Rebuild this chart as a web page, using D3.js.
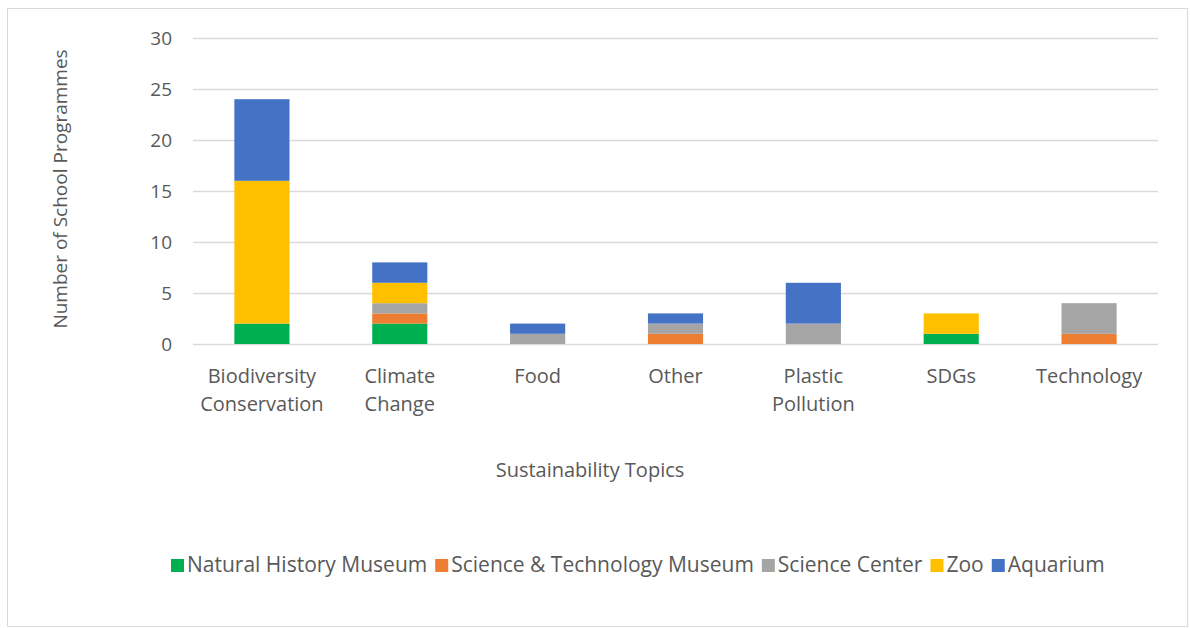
<!DOCTYPE html>
<html>
<head>
<meta charset="utf-8">
<script src="https://cdn.jsdelivr.net/npm/d3@7"></script>
<style>
  body { margin: 0; background: #fff; }
  text { font-family: "Open Sans", "Noto Sans", sans-serif; fill: #595959; }
</style>
</head>
<body>
<div id="chart"></div>
<script>
// Data
const topics = [
  ["Biodiversity", "Conservation"],
  ["Climate", "Change"],
  ["Food"],
  ["Other"],
  ["Plastic", "Pollution"],
  ["SDGs"],
  ["Technology"]
];
const seriesNames = ["Natural History Museum", "Science & Technology Museum", "Science Center", "Zoo", "Aquarium"];
const seriesColors = ["#00b050", "#ed7d31", "#a5a5a5", "#ffc000", "#4472c4"];
const naturalHistory = [2, 2, 0, 0, 0, 1, 0];
const sciTech        = [0, 1, 0, 1, 0, 0, 1];
const scienceCenter  = [0, 1, 1, 1, 2, 0, 3];
const zoo            = [14, 2, 0, 0, 0, 2, 0];
const aquarium       = [8, 2, 1, 1, 4, 0, 0];
const yTicks = [0, 5, 10, 15, 20, 25, 30];

const allSeries = [naturalHistory, sciTech, scienceCenter, zoo, aquarium];
const rows = topics.map((t, i) => {
  const r = { key: t.join(" ") };
  seriesNames.forEach((s, j) => r[s] = allSeries[j][i]);
  return r;
});

// Dimensions
const dims = { width: 1190, height: 628, left: 193, right: 1158, top: 38, bottom: 344 };

const svg = d3.select("#chart")
  .append("svg")
  .attr("width", dims.width)
  .attr("height", dims.height);

// chart frame
svg.append("rect")
  .attr("x", 7.5).attr("y", 8.5)
  .attr("width", 1180).attr("height", 618)
  .attr("fill", "none")
  .attr("stroke", "#d9d9d9");

const xScale = d3.scaleBand()
  .domain(rows.map(d => d.key))
  .range([dims.left, dims.right])
  .paddingInner(0.6)
  .paddingOuter(0.3);

const yScale = d3.scaleLinear()
  .domain([0, 30])
  .range([dims.bottom, dims.top]);

// gridlines + y labels
const yAxis = d3.axisLeft(yScale)
  .tickValues(yTicks)
  .tickSize(-(dims.right - dims.left))
  .tickPadding(21);

const yAxisGroup = svg.append("g")
  .attr("transform", `translate(${dims.left},0)`)
  .call(yAxis);
yAxisGroup.select(".domain").remove();
yAxisGroup.selectAll(".tick line").attr("stroke", "#d9d9d9").attr("stroke-width", 1.3);
yAxisGroup.selectAll(".tick text")
  .style("font-size", "19px")
  .attr("fill", "#595959");

// bars
const stacked = d3.stack().keys(seriesNames)(rows);

svg.append("g")
  .selectAll("g")
  .data(stacked)
  .join("g")
  .attr("fill", (d, i) => seriesColors[i])
  .selectAll("rect")
  .data(d => d)
  .join("rect")
  .attr("x", d => xScale(d.data.key))
  .attr("width", xScale.bandwidth())
  .attr("y", d => yScale(d[1]))
  .attr("height", d => yScale(d[0]) - yScale(d[1]));

// category labels
const xLabels = svg.append("g");
topics.forEach((t, i) => {
  const cx = xScale(rows[i].key) + xScale.bandwidth() / 2;
  const txt = xLabels.append("text")
    .attr("text-anchor", "middle")
    .style("font-size", "20px");
  t.forEach((line, k) => {
    txt.append("tspan")
      .attr("x", cx)
      .attr("y", 383 + k * 28)
      .text(line);
  });
});

// axis titles
svg.append("text")
  .attr("x", 590).attr("y", 477)
  .attr("text-anchor", "middle")
  .style("font-size", "20px")
  .text("Sustainability Topics");

svg.append("text")
  .attr("transform", "translate(67,189) rotate(-90)")
  .attr("text-anchor", "middle")
  .style("font-size", "19px")
  .text("Number of School Programmes");

// legend
const legend = svg.append("g");
let lx = 171;
seriesNames.forEach((name, i) => {
  legend.append("rect")
    .attr("x", lx).attr("y", 559)
    .attr("width", 13).attr("height", 13)
    .attr("fill", seriesColors[i]);
  const t = legend.append("text")
    .attr("x", lx + 16).attr("y", 572)
    .style("font-size", "21px")
    .text(name);
  lx += 16 + t.node().getComputedTextLength() + 8;
});
</script>
</body>
</html>
